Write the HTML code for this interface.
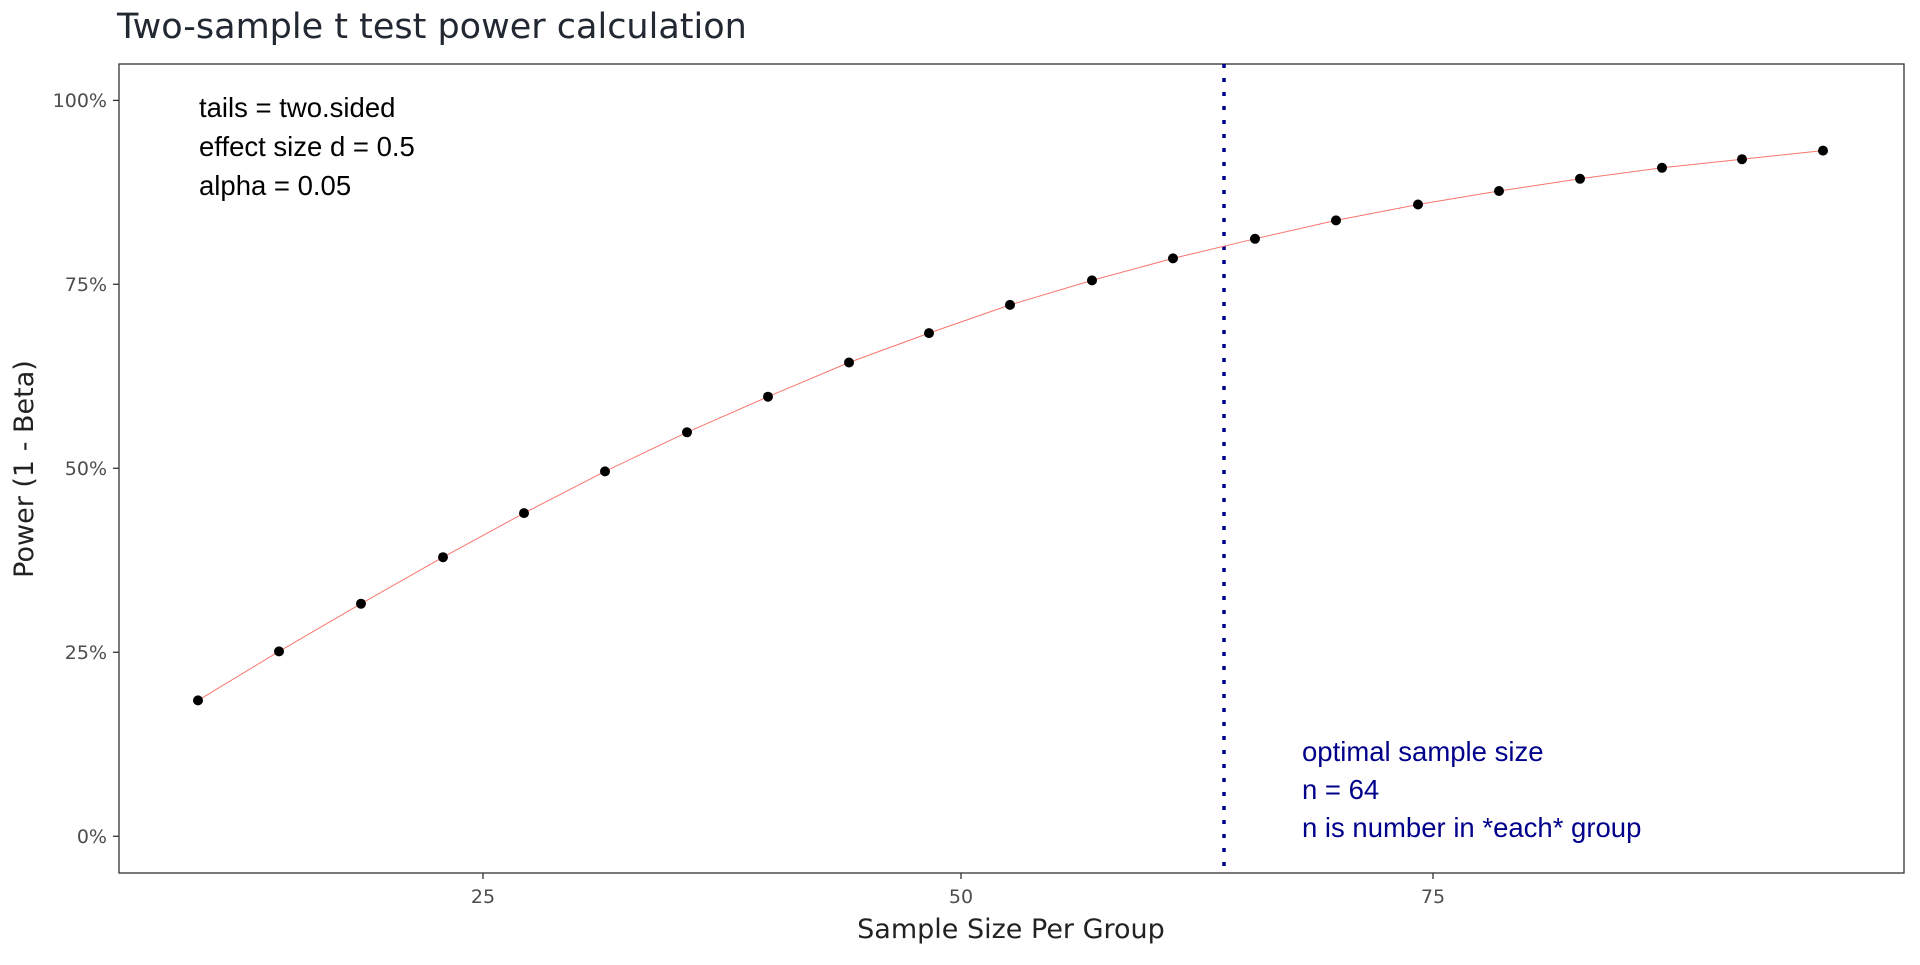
<!DOCTYPE html>
<html><head><style>body{margin:0;background:#fff}</style></head><body>
<svg width="1920" height="960" xmlns="http://www.w3.org/2000/svg" font-family="'DejaVu Sans','Liberation Sans',sans-serif">
<rect width="1920" height="960" fill="#fff"/>
<text x="117" y="38" font-size="35" fill="#222831">Two-sample t test power calculation</text>
<rect x="119" y="64" width="1785" height="809" fill="none" stroke="#333" stroke-width="1.3"/>
<g stroke="#333" stroke-width="1.3">
<line x1="113" y1="100.4" x2="119" y2="100.4"/><line x1="113" y1="284.3" x2="119" y2="284.3"/>
<line x1="113" y1="468.3" x2="119" y2="468.3"/><line x1="113" y1="652.3" x2="119" y2="652.3"/>
<line x1="113" y1="836.3" x2="119" y2="836.3"/>
<line x1="483" y1="873" x2="483" y2="879"/><line x1="961" y1="873" x2="961" y2="879"/><line x1="1433" y1="873" x2="1433" y2="879"/>
</g>
<g font-size="19" fill="#4d4d4d" text-anchor="end">
<text x="107" y="107">100%</text><text x="107" y="291">75%</text><text x="107" y="475">50%</text><text x="107" y="659">25%</text><text x="107" y="843">0%</text>
</g>
<g font-size="19" fill="#4d4d4d" text-anchor="middle">
<text x="483" y="903">25</text><text x="961" y="903">50</text><text x="1433" y="903">75</text>
</g>
<text x="1011" y="938" font-size="27" fill="#222" text-anchor="middle">Sample Size Per Group</text>
<text transform="translate(33,469) rotate(-90)" font-size="27" fill="#222" text-anchor="middle">Power (1 - Beta)</text>
<line x1="1224" y1="64" x2="1224" y2="873" stroke="#00008b" stroke-width="3.5" stroke-dasharray="4,10"/>
<g font-family="'Liberation Sans',sans-serif" font-size="27.5">
<text x="199" y="117" fill="#000">tails = two.sided</text>
<text x="199" y="156" fill="#000">effect size d = 0.5</text>
<text x="199" y="195" fill="#000">alpha = 0.05</text>
<text x="1302" y="761" fill="#00008b">optimal sample size</text>
<text x="1302" y="799" fill="#00008b">n = 64</text>
<text x="1302" y="837" fill="#00008b">n is number in *each* group</text>
</g>
<g id="pts">
<polyline fill="none" stroke="#f8766d" stroke-width="1" points="198,700.4 279,651.4 361,603.7 443,557.2 524,513.1 605,471.4 687,432.3 768,396.7 849,362.5 929,333.1 1010,304.9 1092,280.4 1173,258.4 1255,238.8 1336,220.4 1418,204.5 1499,191.0 1580,178.8 1662,167.8 1742,159.2 1823,150.6"/>
<g fill="#000">
<circle cx="198" cy="700.4" r="5"/><circle cx="279" cy="651.4" r="5"/><circle cx="361" cy="603.7" r="5"/><circle cx="443" cy="557.2" r="5"/><circle cx="524" cy="513.1" r="5"/><circle cx="605" cy="471.4" r="5"/><circle cx="687" cy="432.3" r="5"/><circle cx="768" cy="396.7" r="5"/><circle cx="849" cy="362.5" r="5"/><circle cx="929" cy="333.1" r="5"/><circle cx="1010" cy="304.9" r="5"/><circle cx="1092" cy="280.4" r="5"/><circle cx="1173" cy="258.4" r="5"/><circle cx="1255" cy="238.8" r="5"/><circle cx="1336" cy="220.4" r="5"/><circle cx="1418" cy="204.5" r="5"/><circle cx="1499" cy="191.0" r="5"/><circle cx="1580" cy="178.8" r="5"/><circle cx="1662" cy="167.8" r="5"/><circle cx="1742" cy="159.2" r="5"/><circle cx="1823" cy="150.6" r="5"/>
</g></g>
</svg>
</body></html>
